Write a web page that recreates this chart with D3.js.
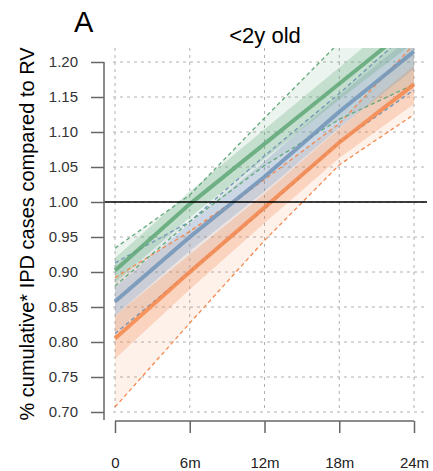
<!DOCTYPE html>
<html><head><meta charset="utf-8">
<script src="https://cdn.jsdelivr.net/npm/d3@7"></script>
<style>body{margin:0;background:#fff}svg{display:block}text{font-family:"Liberation Sans",Arial,sans-serif}</style>
</head><body><svg id="c" width="433" height="471"></svg>
<script>
const months = [0, 6, 12, 18, 24];
const xTickLabels = ["0", "6m", "12m", "18m", "24m"];
const yTicks = [0.70, 0.75, 0.80, 0.85, 0.90, 0.95, 1.00, 1.05, 1.10, 1.15, 1.20];

const greenMean  = [0.902, 0.997, 1.083, 1.169, 1.255];
const greenLo    = [0.885, 0.978, 1.062, 1.146, 1.228];
const greenHi    = [0.920, 1.015, 1.104, 1.192, 1.282];
const greenDashHi= [0.934, 1.010, 1.120, 1.228, 1.340];
const greenDashLo= [0.880, 0.972, 1.052, 1.118, 1.168];

const blueMean   = [0.858, 0.950, 1.036, 1.129, 1.215];
const blueLo     = [0.838, 0.930, 1.015, 1.106, 1.190];
const blueHi     = [0.878, 0.970, 1.058, 1.152, 1.240];
const blueDashHi = [0.913, 0.972, 1.066, 1.155, 1.250];
const blueDashLo = [0.812, 0.900, 0.990, 1.085, 1.160];

const orangeMean   = [0.805, 0.900, 0.992, 1.085, 1.168];
const orangeLo     = [0.776, 0.875, 0.970, 1.063, 1.140];
const orangeHi     = [0.838, 0.925, 1.012, 1.105, 1.195];
const orangeDashHi = [0.892, 0.958, 1.032, 1.112, 1.225];
const orangeDashLo = [0.707, 0.827, 0.945, 1.053, 1.125];

const series = [
  {color:"#f5894f", mean:orangeMean, lo:orangeLo, hi:orangeHi, dhi:orangeDashHi, dlo:orangeDashLo},
  {color:"#7395b8", mean:blueMean, lo:blueLo, hi:blueHi, dhi:blueDashHi, dlo:blueDashLo},
  {color:"#62a87a", mean:greenMean, lo:greenLo, hi:greenHi, dhi:greenDashHi, dlo:greenDashLo}
];

const svg = d3.select("#c");
const x = d3.scaleLinear().domain([0, 24]).range([115, 414]);
const y = d3.scaleLinear().domain([0.70, 1.20]).range([412, 62]);
const plot = {x0:112, x1:427, y0:48, y1:416};

svg.append("clipPath").attr("id","clip").append("rect")
  .attr("x",plot.x0).attr("y",plot.y0).attr("width",plot.x1-plot.x0).attr("height",plot.y1-plot.y0);

// grid
const grid = svg.append("g").attr("stroke","#b0b0b0").attr("stroke-width",1).attr("stroke-dasharray","3,4");
yTicks.forEach(v => grid.append("line").attr("x1",plot.x0+1).attr("x2",plot.x1).attr("y1",y(v)).attr("y2",y(v)));
months.forEach(m => grid.append("line").attr("x1",x(m)).attr("x2",x(m)).attr("y1",plot.y0).attr("y2",412));

const g = svg.append("g").attr("clip-path","url(#clip)");
const area = (lo, hi) => d3.area().x((d,i)=>x(months[i])).y0((d,i)=>y(lo[i])).y1((d,i)=>y(hi[i]))(months);
const line = arr => d3.line().x((d,i)=>x(months[i])).y((d,i)=>y(arr[i]))(months);

series.forEach(s => g.append("path").attr("d", area(s.dlo, s.dhi)).attr("fill", s.color).attr("fill-opacity", 0.12));
series.forEach(s => g.append("path").attr("d", area(s.lo, s.hi)).attr("fill", s.color).attr("fill-opacity", 0.28));
series.forEach(s => {
  [s.dhi, s.dlo].forEach(arr => g.append("path").attr("d", line(arr)).attr("fill","none")
    .attr("stroke", s.color).attr("stroke-width", 1.3).attr("stroke-dasharray","4,3"));
});
series.forEach(s => g.append("path").attr("d", line(s.mean)).attr("fill","none")
  .attr("stroke", s.color).attr("stroke-width", 4).attr("stroke-opacity",0.88));

// reference line
svg.append("line").attr("x1",104).attr("x2",plot.x1).attr("y1",y(1)).attr("y2",y(1)).attr("stroke","#000").attr("stroke-width",1.5);

// y axis
const ya = svg.append("g").attr("transform","translate(104,0)")
  .call(d3.axisLeft(y).tickValues(yTicks).tickFormat(d3.format(".2f")).tickSize(13).tickPadding(13));
ya.select(".domain").remove();
ya.selectAll("line").attr("stroke","#666").attr("stroke-width",1.5);
ya.selectAll("text").attr("font-size",15).attr("fill","#333").attr("font-family","Liberation Sans, Arial");
svg.append("line").attr("x1",104).attr("x2",104).attr("y1",62).attr("y2",420).attr("stroke","#666").attr("stroke-width",1.5);

// x axis
const xa = svg.append("g").attr("transform","translate(0,421)")
  .call(d3.axisBottom(x).tickValues(months).tickFormat((d,i)=>xTickLabels[i]).tickSize(12).tickPadding(24));
xa.select(".domain").attr("stroke","#666").attr("stroke-width",1.5).attr("d","M"+x(0)+",0H"+x(24));
xa.selectAll("line").attr("stroke","#666").attr("stroke-width",1.5);
xa.selectAll("text").attr("font-size",15).attr("fill","#222").attr("font-family","Liberation Sans, Arial");

// titles
svg.append("text").attr("x",74).attr("y",32).attr("font-size",29).text("A");
svg.append("text").attr("x",265).attr("y",43).attr("text-anchor","middle").attr("font-size",22).text("<2y old");
svg.append("text").attr("transform","translate(34,234) rotate(-90)").attr("text-anchor","middle")
  .attr("font-size",20).text("% cumulative* IPD cases compared to RV");
</script></body></html>
